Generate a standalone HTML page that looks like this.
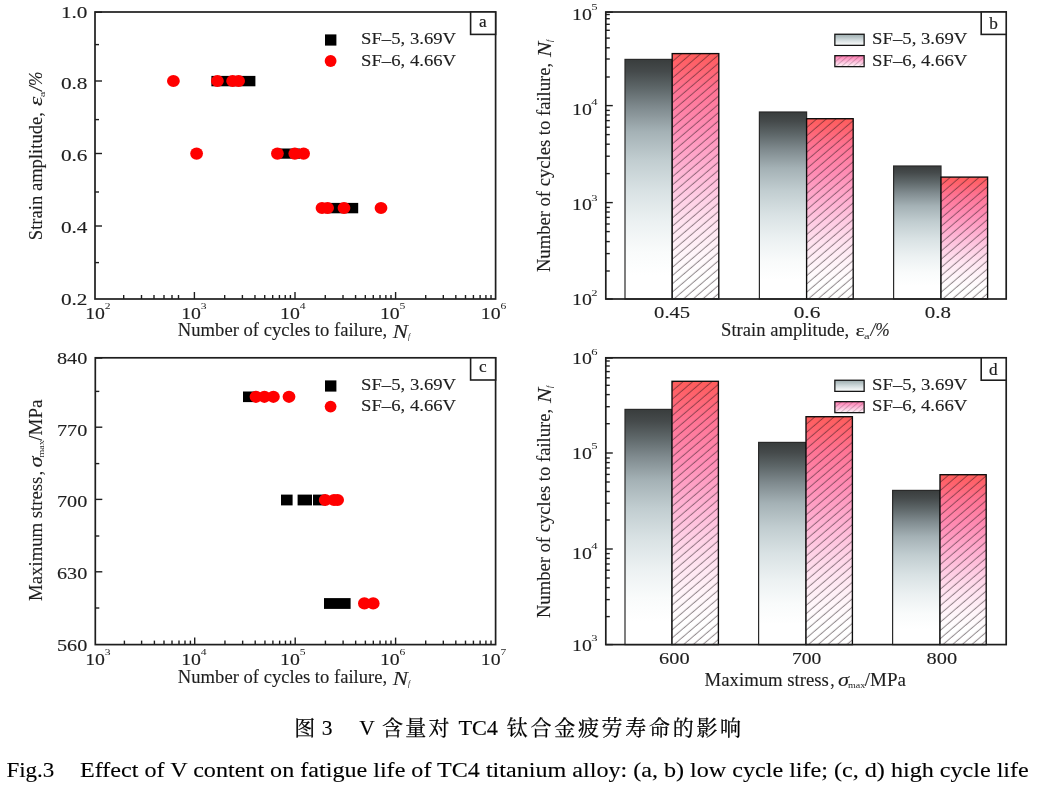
<!DOCTYPE html>
<html lang="zh"><head><meta charset="utf-8"><title>Fig.3</title>
<style>html,body{margin:0;padding:0;background:#fff}svg{display:block}text{font-family:'Liberation Serif','Noto Serif CJK SC',serif;}</style></head><body>
<svg width="1040" height="791" viewBox="0 0 1040 791">
<defs>
<linearGradient id="gGrey" x1="0" y1="0" x2="0" y2="1"><stop offset="0" stop-color="#393d3d"/><stop offset="0.05" stop-color="#454a4b"/><stop offset="0.12" stop-color="#5e6769"/><stop offset="0.20" stop-color="#7f8a8e"/><stop offset="0.30" stop-color="#a4b1b5"/><stop offset="0.42" stop-color="#c1cdd0"/><stop offset="0.55" stop-color="#d9e2e4"/><stop offset="0.68" stop-color="#ecf1f2"/><stop offset="0.80" stop-color="#f9fbfb"/><stop offset="0.90" stop-color="#ffffff"/><stop offset="1" stop-color="#ffffff"/></linearGradient>
<linearGradient id="gRed" x1="0" y1="0" x2="0" y2="1"><stop offset="0" stop-color="#ff5c5a"/><stop offset="0.06" stop-color="#ff6470"/><stop offset="0.15" stop-color="#ff7494"/><stop offset="0.30" stop-color="#ff8cb4"/><stop offset="0.45" stop-color="#ffaed0"/><stop offset="0.58" stop-color="#ffcde4"/><stop offset="0.70" stop-color="#ffe5f1"/><stop offset="0.82" stop-color="#fff6fa"/><stop offset="0.92" stop-color="#ffffff"/><stop offset="1" stop-color="#ffffff"/></linearGradient>
<linearGradient id="gLegG" x1="0" y1="0" x2="0" y2="1"><stop offset="0" stop-color="#9babad"/><stop offset="0.5" stop-color="#d0dadc"/><stop offset="1" stop-color="#ffffff"/></linearGradient>
<linearGradient id="gLegR" x1="0" y1="0" x2="0" y2="1"><stop offset="0" stop-color="#ff78ae"/><stop offset="0.5" stop-color="#ffb8d8"/><stop offset="1" stop-color="#fffafc"/></linearGradient>
<pattern id="hatch" patternUnits="userSpaceOnUse" width="20" height="6.25" patternTransform="rotate(-40.6)"><line x1="0" y1="3" x2="20" y2="3" stroke="#22141a" stroke-opacity="0.85" stroke-width="0.62"/></pattern>
<pattern id="hatchL" patternUnits="userSpaceOnUse" width="20" height="3.8" patternTransform="rotate(-40.6)"><line x1="0" y1="1.5" x2="20" y2="1.5" stroke="#402030" stroke-opacity="0.5" stroke-width="0.5"/></pattern>
</defs>
<rect width="1040" height="791" fill="#fff"/>
<rect x="211.40" y="75.90" width="44.00" height="10.40" fill="#000"/>
<ellipse cx="173.40" cy="81.00" rx="6.40" ry="6.10" fill="#ff0000"/>
<ellipse cx="217.40" cy="81.00" rx="6.40" ry="6.10" fill="#ff0000"/>
<ellipse cx="232.60" cy="81.00" rx="6.40" ry="6.10" fill="#ff0000"/>
<ellipse cx="238.60" cy="81.00" rx="6.40" ry="6.10" fill="#ff0000"/>
<rect x="279.00" y="148.50" width="21.00" height="10.20" fill="#000"/>
<ellipse cx="196.60" cy="153.60" rx="6.40" ry="6.10" fill="#ff0000"/>
<ellipse cx="277.40" cy="153.60" rx="6.40" ry="6.10" fill="#ff0000"/>
<ellipse cx="294.80" cy="153.60" rx="6.40" ry="6.10" fill="#ff0000"/>
<ellipse cx="303.60" cy="153.60" rx="6.40" ry="6.10" fill="#ff0000"/>
<rect x="325.00" y="202.90" width="33.20" height="10.40" fill="#000"/>
<ellipse cx="322.00" cy="208.00" rx="6.40" ry="6.10" fill="#ff0000"/>
<ellipse cx="327.60" cy="208.00" rx="6.40" ry="6.10" fill="#ff0000"/>
<ellipse cx="344.00" cy="208.00" rx="6.40" ry="6.10" fill="#ff0000"/>
<ellipse cx="381.00" cy="208.00" rx="6.40" ry="6.10" fill="#ff0000"/>
<rect x="95.00" y="12.00" width="400.60" height="287.00" fill="none" stroke="#1e1e1e" stroke-width="1.7"/>
<line x1="95.00" y1="12.20" x2="102.00" y2="12.20" stroke="#1e1e1e" stroke-width="1.4"/>
<text x="60.90" y="18.20" font-size="16.4" fill="#1e1e1e" textLength="26.60" lengthAdjust="spacingAndGlyphs" stroke="#1e1e1e" stroke-width="0.12">1.0</text>
<line x1="95.00" y1="81.00" x2="102.00" y2="81.00" stroke="#1e1e1e" stroke-width="1.4"/>
<text x="60.90" y="89.40" font-size="16.4" fill="#1e1e1e" textLength="26.60" lengthAdjust="spacingAndGlyphs" stroke="#1e1e1e" stroke-width="0.12">0.8</text>
<line x1="95.00" y1="153.50" x2="102.00" y2="153.50" stroke="#1e1e1e" stroke-width="1.4"/>
<text x="60.90" y="161.00" font-size="16.4" fill="#1e1e1e" textLength="26.60" lengthAdjust="spacingAndGlyphs" stroke="#1e1e1e" stroke-width="0.12">0.6</text>
<line x1="95.00" y1="226.00" x2="102.00" y2="226.00" stroke="#1e1e1e" stroke-width="1.4"/>
<text x="60.90" y="233.30" font-size="16.4" fill="#1e1e1e" textLength="26.60" lengthAdjust="spacingAndGlyphs" stroke="#1e1e1e" stroke-width="0.12">0.4</text>
<text x="60.90" y="305.10" font-size="16.4" fill="#1e1e1e" textLength="26.60" lengthAdjust="spacingAndGlyphs" stroke="#1e1e1e" stroke-width="0.12">0.2</text>
<line x1="95.00" y1="44.60" x2="99.00" y2="44.60" stroke="#1e1e1e" stroke-width="1.4"/>
<line x1="95.00" y1="119.60" x2="99.00" y2="119.60" stroke="#1e1e1e" stroke-width="1.4"/>
<line x1="95.00" y1="192.00" x2="99.00" y2="192.00" stroke="#1e1e1e" stroke-width="1.4"/>
<line x1="95.00" y1="262.60" x2="99.00" y2="262.60" stroke="#1e1e1e" stroke-width="1.4"/>
<line x1="123.70" y1="299.00" x2="123.70" y2="295.00" stroke="#1e1e1e" stroke-width="1.4"/>
<line x1="141.50" y1="299.00" x2="141.50" y2="295.00" stroke="#1e1e1e" stroke-width="1.4"/>
<line x1="154.00" y1="299.00" x2="154.00" y2="295.00" stroke="#1e1e1e" stroke-width="1.4"/>
<line x1="164.00" y1="299.00" x2="164.00" y2="295.00" stroke="#1e1e1e" stroke-width="1.4"/>
<line x1="172.00" y1="299.00" x2="172.00" y2="295.00" stroke="#1e1e1e" stroke-width="1.4"/>
<line x1="178.50" y1="299.00" x2="178.50" y2="295.00" stroke="#1e1e1e" stroke-width="1.4"/>
<line x1="194.40" y1="299.00" x2="194.40" y2="292.00" stroke="#1e1e1e" stroke-width="1.4"/>
<line x1="224.68" y1="299.00" x2="224.68" y2="295.00" stroke="#1e1e1e" stroke-width="1.4"/>
<line x1="242.40" y1="299.00" x2="242.40" y2="295.00" stroke="#1e1e1e" stroke-width="1.4"/>
<line x1="254.97" y1="299.00" x2="254.97" y2="295.00" stroke="#1e1e1e" stroke-width="1.4"/>
<line x1="264.72" y1="299.00" x2="264.72" y2="295.00" stroke="#1e1e1e" stroke-width="1.4"/>
<line x1="272.68" y1="299.00" x2="272.68" y2="295.00" stroke="#1e1e1e" stroke-width="1.4"/>
<line x1="279.42" y1="299.00" x2="279.42" y2="295.00" stroke="#1e1e1e" stroke-width="1.4"/>
<line x1="285.25" y1="299.00" x2="285.25" y2="295.00" stroke="#1e1e1e" stroke-width="1.4"/>
<line x1="290.40" y1="299.00" x2="290.40" y2="295.00" stroke="#1e1e1e" stroke-width="1.4"/>
<line x1="295.00" y1="299.00" x2="295.00" y2="292.00" stroke="#1e1e1e" stroke-width="1.4"/>
<line x1="325.28" y1="299.00" x2="325.28" y2="295.00" stroke="#1e1e1e" stroke-width="1.4"/>
<line x1="343.00" y1="299.00" x2="343.00" y2="295.00" stroke="#1e1e1e" stroke-width="1.4"/>
<line x1="355.57" y1="299.00" x2="355.57" y2="295.00" stroke="#1e1e1e" stroke-width="1.4"/>
<line x1="365.32" y1="299.00" x2="365.32" y2="295.00" stroke="#1e1e1e" stroke-width="1.4"/>
<line x1="373.28" y1="299.00" x2="373.28" y2="295.00" stroke="#1e1e1e" stroke-width="1.4"/>
<line x1="380.02" y1="299.00" x2="380.02" y2="295.00" stroke="#1e1e1e" stroke-width="1.4"/>
<line x1="385.85" y1="299.00" x2="385.85" y2="295.00" stroke="#1e1e1e" stroke-width="1.4"/>
<line x1="391.00" y1="299.00" x2="391.00" y2="295.00" stroke="#1e1e1e" stroke-width="1.4"/>
<line x1="395.60" y1="299.00" x2="395.60" y2="292.00" stroke="#1e1e1e" stroke-width="1.4"/>
<line x1="425.70" y1="299.00" x2="425.70" y2="295.00" stroke="#1e1e1e" stroke-width="1.4"/>
<line x1="443.31" y1="299.00" x2="443.31" y2="295.00" stroke="#1e1e1e" stroke-width="1.4"/>
<line x1="455.81" y1="299.00" x2="455.81" y2="295.00" stroke="#1e1e1e" stroke-width="1.4"/>
<line x1="465.50" y1="299.00" x2="465.50" y2="295.00" stroke="#1e1e1e" stroke-width="1.4"/>
<line x1="473.42" y1="299.00" x2="473.42" y2="295.00" stroke="#1e1e1e" stroke-width="1.4"/>
<line x1="480.11" y1="299.00" x2="480.11" y2="295.00" stroke="#1e1e1e" stroke-width="1.4"/>
<line x1="485.91" y1="299.00" x2="485.91" y2="295.00" stroke="#1e1e1e" stroke-width="1.4"/>
<line x1="491.02" y1="299.00" x2="491.02" y2="295.00" stroke="#1e1e1e" stroke-width="1.4"/>
<text x="85.20" y="318.50" font-size="16.4" fill="#1e1e1e" textLength="19.80" lengthAdjust="spacingAndGlyphs" stroke="#1e1e1e" stroke-width="0.12">10</text>
<text x="104.80" y="309.30" font-size="8.8" fill="#1e1e1e" textLength="5.80" lengthAdjust="spacingAndGlyphs">2</text>
<text x="181.20" y="318.50" font-size="16.4" fill="#1e1e1e" textLength="19.80" lengthAdjust="spacingAndGlyphs" stroke="#1e1e1e" stroke-width="0.12">10</text>
<text x="200.80" y="309.30" font-size="8.8" fill="#1e1e1e" textLength="5.80" lengthAdjust="spacingAndGlyphs">3</text>
<text x="280.10" y="318.50" font-size="16.4" fill="#1e1e1e" textLength="19.80" lengthAdjust="spacingAndGlyphs" stroke="#1e1e1e" stroke-width="0.12">10</text>
<text x="299.70" y="309.30" font-size="8.8" fill="#1e1e1e" textLength="5.80" lengthAdjust="spacingAndGlyphs">4</text>
<text x="379.90" y="318.50" font-size="16.4" fill="#1e1e1e" textLength="19.80" lengthAdjust="spacingAndGlyphs" stroke="#1e1e1e" stroke-width="0.12">10</text>
<text x="399.50" y="309.30" font-size="8.8" fill="#1e1e1e" textLength="5.80" lengthAdjust="spacingAndGlyphs">5</text>
<text x="480.80" y="318.50" font-size="16.4" fill="#1e1e1e" textLength="19.80" lengthAdjust="spacingAndGlyphs" stroke="#1e1e1e" stroke-width="0.12">10</text>
<text x="500.40" y="309.30" font-size="8.8" fill="#1e1e1e" textLength="5.80" lengthAdjust="spacingAndGlyphs">6</text>
<g transform="translate(178.75 335.70)">
<text x="-0.90" y="0.00" font-size="17.9" fill="#1e1e1e" textLength="209.30" lengthAdjust="spacingAndGlyphs" stroke="#1e1e1e" stroke-width="0.12">Number of cycles to failure,</text>
<text x="214.10" y="1.90" font-size="18.099999999999998" fill="#1e1e1e" textLength="15.20" lengthAdjust="spacingAndGlyphs" font-style="italic" stroke="#1e1e1e" stroke-width="0.12">N</text>
<text x="229.30" y="2.80" font-size="7.7" fill="#1e1e1e" font-style="italic">f</text>
</g>
<g transform="translate(41.90 239.30) rotate(-90)">
<text x="-0.90" y="0.00" font-size="18.5" fill="#1e1e1e" textLength="128.10" lengthAdjust="spacingAndGlyphs" stroke="#1e1e1e" stroke-width="0.12">Strain amplitude,</text>
<text x="133.40" y="0.00" font-size="18.0" fill="#1e1e1e" textLength="9.30" lengthAdjust="spacingAndGlyphs" font-style="italic" stroke="#1e1e1e" stroke-width="0.12">ε</text>
<text x="142.10" y="2.60" font-size="9.25" fill="#1e1e1e" textLength="5.60" lengthAdjust="spacingAndGlyphs">a</text>
<text x="148.40" y="0.00" font-size="18.5" fill="#1e1e1e" textLength="19.30" lengthAdjust="spacingAndGlyphs" font-style="italic" stroke="#1e1e1e" stroke-width="0.12">/%</text>
</g>
<rect x="325.0" y="34.40" width="11.4" height="11.2" fill="#000"/>
<circle cx="330.6" cy="61.00" r="5.9" fill="#ff0000"/>
<text x="361.10" y="44.40" font-size="17.5" fill="#1e1e1e" textLength="95.00" lengthAdjust="spacingAndGlyphs" stroke="#1e1e1e" stroke-width="0.12">SF–5, 3.69V</text>
<text x="361.10" y="65.60" font-size="17.5" fill="#1e1e1e" textLength="95.00" lengthAdjust="spacingAndGlyphs" stroke="#1e1e1e" stroke-width="0.12">SF–6, 4.66V</text>
<rect x="470.60" y="12.00" width="25.00" height="22.40" fill="#fff" stroke="#1e1e1e" stroke-width="1.6"/>
<text x="482.80" y="26.80" font-size="17.2" fill="#1e1e1e" text-anchor="middle" stroke="#1e1e1e" stroke-width="0.2">a</text>
<rect x="625.00" y="59.40" width="47.20" height="239.60" fill="url(#gGrey)" stroke="#2a2a2a" stroke-width="1.2"/>
<rect x="759.40" y="112.00" width="47.20" height="187.00" fill="url(#gGrey)" stroke="#2a2a2a" stroke-width="1.2"/>
<rect x="893.60" y="166.00" width="47.40" height="133.00" fill="url(#gGrey)" stroke="#2a2a2a" stroke-width="1.2"/>
<rect x="672.20" y="53.60" width="46.60" height="245.40" fill="url(#gRed)"/>
<rect x="672.20" y="53.60" width="46.60" height="245.40" fill="url(#hatch)" stroke="#0c0c0c" stroke-width="1.35"/>
<rect x="806.60" y="118.70" width="46.60" height="180.30" fill="url(#gRed)"/>
<rect x="806.60" y="118.70" width="46.60" height="180.30" fill="url(#hatch)" stroke="#0c0c0c" stroke-width="1.35"/>
<rect x="941.00" y="177.10" width="46.60" height="121.90" fill="url(#gRed)"/>
<rect x="941.00" y="177.10" width="46.60" height="121.90" fill="url(#hatch)" stroke="#0c0c0c" stroke-width="1.35"/>
<rect x="605.80" y="12.00" width="400.40" height="287.00" fill="none" stroke="#1e1e1e" stroke-width="1.7"/>
<line x1="605.80" y1="12.20" x2="612.80" y2="12.20" stroke="#1e1e1e" stroke-width="1.4"/>
<text x="572.10" y="19.50" font-size="16.4" fill="#1e1e1e" textLength="19.80" lengthAdjust="spacingAndGlyphs" stroke="#1e1e1e" stroke-width="0.12">10</text>
<text x="591.30" y="9.90" font-size="8.8" fill="#1e1e1e" textLength="6.30" lengthAdjust="spacingAndGlyphs">5</text>
<line x1="605.80" y1="105.60" x2="612.80" y2="105.60" stroke="#1e1e1e" stroke-width="1.4"/>
<text x="572.10" y="115.00" font-size="16.4" fill="#1e1e1e" textLength="19.80" lengthAdjust="spacingAndGlyphs" stroke="#1e1e1e" stroke-width="0.12">10</text>
<text x="591.30" y="105.40" font-size="8.8" fill="#1e1e1e" textLength="6.30" lengthAdjust="spacingAndGlyphs">4</text>
<line x1="605.80" y1="202.60" x2="612.80" y2="202.60" stroke="#1e1e1e" stroke-width="1.4"/>
<text x="572.10" y="210.10" font-size="16.4" fill="#1e1e1e" textLength="19.80" lengthAdjust="spacingAndGlyphs" stroke="#1e1e1e" stroke-width="0.12">10</text>
<text x="591.30" y="200.50" font-size="8.8" fill="#1e1e1e" textLength="6.30" lengthAdjust="spacingAndGlyphs">3</text>
<line x1="605.80" y1="299.00" x2="612.80" y2="299.00" stroke="#1e1e1e" stroke-width="1.4"/>
<text x="572.10" y="305.40" font-size="16.4" fill="#1e1e1e" textLength="19.80" lengthAdjust="spacingAndGlyphs" stroke="#1e1e1e" stroke-width="0.12">10</text>
<text x="591.30" y="295.80" font-size="8.8" fill="#1e1e1e" textLength="6.30" lengthAdjust="spacingAndGlyphs">2</text>
<line x1="605.80" y1="14.50" x2="609.80" y2="14.50" stroke="#1e1e1e" stroke-width="1.4"/>
<line x1="605.80" y1="18.70" x2="609.80" y2="18.70" stroke="#1e1e1e" stroke-width="1.4"/>
<line x1="605.80" y1="24.30" x2="609.80" y2="24.30" stroke="#1e1e1e" stroke-width="1.4"/>
<line x1="605.80" y1="30.30" x2="609.80" y2="30.30" stroke="#1e1e1e" stroke-width="1.4"/>
<line x1="605.80" y1="38.10" x2="609.80" y2="38.10" stroke="#1e1e1e" stroke-width="1.4"/>
<line x1="605.80" y1="47.80" x2="609.80" y2="47.80" stroke="#1e1e1e" stroke-width="1.4"/>
<line x1="605.80" y1="59.00" x2="609.80" y2="59.00" stroke="#1e1e1e" stroke-width="1.4"/>
<line x1="605.80" y1="77.00" x2="609.80" y2="77.00" stroke="#1e1e1e" stroke-width="1.4"/>
<line x1="605.80" y1="110.40" x2="609.80" y2="110.40" stroke="#1e1e1e" stroke-width="1.4"/>
<line x1="605.80" y1="115.00" x2="609.80" y2="115.00" stroke="#1e1e1e" stroke-width="1.4"/>
<line x1="605.80" y1="120.60" x2="609.80" y2="120.60" stroke="#1e1e1e" stroke-width="1.4"/>
<line x1="605.80" y1="127.20" x2="609.80" y2="127.20" stroke="#1e1e1e" stroke-width="1.4"/>
<line x1="605.80" y1="134.60" x2="609.80" y2="134.60" stroke="#1e1e1e" stroke-width="1.4"/>
<line x1="605.80" y1="144.20" x2="609.80" y2="144.20" stroke="#1e1e1e" stroke-width="1.4"/>
<line x1="605.80" y1="156.20" x2="609.80" y2="156.20" stroke="#1e1e1e" stroke-width="1.4"/>
<line x1="605.80" y1="173.60" x2="609.80" y2="173.60" stroke="#1e1e1e" stroke-width="1.4"/>
<line x1="605.80" y1="207.40" x2="609.80" y2="207.40" stroke="#1e1e1e" stroke-width="1.4"/>
<line x1="605.80" y1="212.00" x2="609.80" y2="212.00" stroke="#1e1e1e" stroke-width="1.4"/>
<line x1="605.80" y1="217.40" x2="609.80" y2="217.40" stroke="#1e1e1e" stroke-width="1.4"/>
<line x1="605.80" y1="224.00" x2="609.80" y2="224.00" stroke="#1e1e1e" stroke-width="1.4"/>
<line x1="605.80" y1="231.60" x2="609.80" y2="231.60" stroke="#1e1e1e" stroke-width="1.4"/>
<line x1="605.80" y1="241.60" x2="609.80" y2="241.60" stroke="#1e1e1e" stroke-width="1.4"/>
<line x1="605.80" y1="253.60" x2="609.80" y2="253.60" stroke="#1e1e1e" stroke-width="1.4"/>
<line x1="605.80" y1="271.00" x2="609.80" y2="271.00" stroke="#1e1e1e" stroke-width="1.4"/>
<text x="654.10" y="318.20" font-size="16.4" fill="#1e1e1e" textLength="36.10" lengthAdjust="spacingAndGlyphs" stroke="#1e1e1e" stroke-width="0.12">0.45</text>
<text x="793.70" y="318.20" font-size="16.4" fill="#1e1e1e" textLength="26.70" lengthAdjust="spacingAndGlyphs" stroke="#1e1e1e" stroke-width="0.12">0.6</text>
<text x="924.70" y="318.20" font-size="16.4" fill="#1e1e1e" textLength="26.20" lengthAdjust="spacingAndGlyphs" stroke="#1e1e1e" stroke-width="0.12">0.8</text>
<g transform="translate(722.00 335.90)">
<text x="-0.90" y="0.00" font-size="17.9" fill="#1e1e1e" textLength="128.10" lengthAdjust="spacingAndGlyphs" stroke="#1e1e1e" stroke-width="0.12">Strain amplitude,</text>
<text x="133.40" y="0.00" font-size="17.4" fill="#1e1e1e" textLength="9.30" lengthAdjust="spacingAndGlyphs" stroke="#1e1e1e" stroke-width="0.12">ε</text>
<text x="142.10" y="2.60" font-size="8.95" fill="#1e1e1e" textLength="5.60" lengthAdjust="spacingAndGlyphs">a</text>
<text x="148.40" y="0.00" font-size="17.9" fill="#1e1e1e" textLength="19.30" lengthAdjust="spacingAndGlyphs" font-style="italic" stroke="#1e1e1e" stroke-width="0.12">/%</text>
</g>
<g transform="translate(550.40 271.20) rotate(-90)">
<text x="-0.90" y="0.00" font-size="18.5" fill="#1e1e1e" textLength="209.30" lengthAdjust="spacingAndGlyphs" stroke="#1e1e1e" stroke-width="0.12">Number of cycles to failure,</text>
<text x="214.10" y="1.00" font-size="18.7" fill="#1e1e1e" textLength="15.20" lengthAdjust="spacingAndGlyphs" font-style="italic" stroke="#1e1e1e" stroke-width="0.12">N</text>
<text x="229.30" y="1.90" font-size="7.96" fill="#1e1e1e" font-style="italic">f</text>
</g>
<rect x="834.85" y="34.25" width="29.3" height="11.1" fill="url(#gLegG)" stroke="#161616" stroke-width="1.3"/>
<rect x="834.85" y="55.65" width="29.3" height="11.0" fill="url(#gLegR)"/>
<rect x="834.85" y="55.65" width="29.3" height="11.0" fill="url(#hatchL)" stroke="#161616" stroke-width="1.3"/>
<text x="872.10" y="44.40" font-size="17.5" fill="#1e1e1e" textLength="95.20" lengthAdjust="spacingAndGlyphs" stroke="#1e1e1e" stroke-width="0.12">SF–5, 3.69V</text>
<text x="872.10" y="65.60" font-size="17.5" fill="#1e1e1e" textLength="95.20" lengthAdjust="spacingAndGlyphs" stroke="#1e1e1e" stroke-width="0.12">SF–6, 4.66V</text>
<rect x="981.20" y="12.00" width="25.00" height="22.40" fill="#fff" stroke="#1e1e1e" stroke-width="1.6"/>
<text x="993.60" y="29.00" font-size="17.2" fill="#1e1e1e" text-anchor="middle" stroke="#1e1e1e" stroke-width="0.2">b</text>
<rect x="243.00" y="391.50" width="13.00" height="10.60" fill="#000"/>
<ellipse cx="256.00" cy="396.80" rx="6.40" ry="6.10" fill="#ff0000"/>
<ellipse cx="264.40" cy="396.80" rx="6.40" ry="6.10" fill="#ff0000"/>
<ellipse cx="273.40" cy="396.80" rx="6.40" ry="6.10" fill="#ff0000"/>
<ellipse cx="289.00" cy="396.80" rx="6.40" ry="6.10" fill="#ff0000"/>
<rect x="281.00" y="494.60" width="11.60" height="10.80" fill="#000"/>
<rect x="297.60" y="494.60" width="14.40" height="10.80" fill="#000"/>
<rect x="313.00" y="494.60" width="13.00" height="10.80" fill="#000"/>
<ellipse cx="325.20" cy="500.00" rx="6.40" ry="6.10" fill="#ff0000"/>
<ellipse cx="334.00" cy="500.00" rx="6.40" ry="6.10" fill="#ff0000"/>
<ellipse cx="337.60" cy="500.00" rx="6.40" ry="6.10" fill="#ff0000"/>
<rect x="324.00" y="598.10" width="26.60" height="10.80" fill="#000"/>
<ellipse cx="364.40" cy="603.40" rx="6.40" ry="6.10" fill="#ff0000"/>
<ellipse cx="373.20" cy="603.40" rx="6.40" ry="6.10" fill="#ff0000"/>
<rect x="95.30" y="357.80" width="400.30" height="286.80" fill="none" stroke="#1e1e1e" stroke-width="1.7"/>
<line x1="95.30" y1="358.00" x2="102.30" y2="358.00" stroke="#1e1e1e" stroke-width="1.4"/>
<text x="57.00" y="363.80" font-size="16.4" fill="#1e1e1e" textLength="30.30" lengthAdjust="spacingAndGlyphs" stroke="#1e1e1e" stroke-width="0.12">840</text>
<line x1="95.30" y1="427.20" x2="102.30" y2="427.20" stroke="#1e1e1e" stroke-width="1.4"/>
<text x="57.00" y="436.20" font-size="16.4" fill="#1e1e1e" textLength="30.30" lengthAdjust="spacingAndGlyphs" stroke="#1e1e1e" stroke-width="0.12">770</text>
<line x1="95.30" y1="499.40" x2="102.30" y2="499.40" stroke="#1e1e1e" stroke-width="1.4"/>
<text x="57.00" y="507.00" font-size="16.4" fill="#1e1e1e" textLength="30.30" lengthAdjust="spacingAndGlyphs" stroke="#1e1e1e" stroke-width="0.12">700</text>
<line x1="95.30" y1="571.80" x2="102.30" y2="571.80" stroke="#1e1e1e" stroke-width="1.4"/>
<text x="57.00" y="579.10" font-size="16.4" fill="#1e1e1e" textLength="30.30" lengthAdjust="spacingAndGlyphs" stroke="#1e1e1e" stroke-width="0.12">630</text>
<text x="57.00" y="650.70" font-size="16.4" fill="#1e1e1e" textLength="30.30" lengthAdjust="spacingAndGlyphs" stroke="#1e1e1e" stroke-width="0.12">560</text>
<line x1="95.30" y1="391.40" x2="99.30" y2="391.40" stroke="#1e1e1e" stroke-width="1.4"/>
<line x1="95.30" y1="463.60" x2="99.30" y2="463.60" stroke="#1e1e1e" stroke-width="1.4"/>
<line x1="95.30" y1="536.00" x2="99.30" y2="536.00" stroke="#1e1e1e" stroke-width="1.4"/>
<line x1="95.30" y1="608.00" x2="99.30" y2="608.00" stroke="#1e1e1e" stroke-width="1.4"/>
<line x1="124.40" y1="644.60" x2="124.40" y2="640.60" stroke="#1e1e1e" stroke-width="1.4"/>
<line x1="141.60" y1="644.60" x2="141.60" y2="640.60" stroke="#1e1e1e" stroke-width="1.4"/>
<line x1="154.40" y1="644.60" x2="154.40" y2="640.60" stroke="#1e1e1e" stroke-width="1.4"/>
<line x1="164.00" y1="644.60" x2="164.00" y2="640.60" stroke="#1e1e1e" stroke-width="1.4"/>
<line x1="172.00" y1="644.60" x2="172.00" y2="640.60" stroke="#1e1e1e" stroke-width="1.4"/>
<line x1="179.00" y1="644.60" x2="179.00" y2="640.60" stroke="#1e1e1e" stroke-width="1.4"/>
<line x1="185.00" y1="644.60" x2="185.00" y2="640.60" stroke="#1e1e1e" stroke-width="1.4"/>
<line x1="190.40" y1="644.60" x2="190.40" y2="640.60" stroke="#1e1e1e" stroke-width="1.4"/>
<line x1="194.70" y1="644.60" x2="194.70" y2="637.60" stroke="#1e1e1e" stroke-width="1.4"/>
<line x1="224.95" y1="644.60" x2="224.95" y2="640.60" stroke="#1e1e1e" stroke-width="1.4"/>
<line x1="242.65" y1="644.60" x2="242.65" y2="640.60" stroke="#1e1e1e" stroke-width="1.4"/>
<line x1="255.21" y1="644.60" x2="255.21" y2="640.60" stroke="#1e1e1e" stroke-width="1.4"/>
<line x1="264.95" y1="644.60" x2="264.95" y2="640.60" stroke="#1e1e1e" stroke-width="1.4"/>
<line x1="272.90" y1="644.60" x2="272.90" y2="640.60" stroke="#1e1e1e" stroke-width="1.4"/>
<line x1="279.63" y1="644.60" x2="279.63" y2="640.60" stroke="#1e1e1e" stroke-width="1.4"/>
<line x1="285.46" y1="644.60" x2="285.46" y2="640.60" stroke="#1e1e1e" stroke-width="1.4"/>
<line x1="290.60" y1="644.60" x2="290.60" y2="640.60" stroke="#1e1e1e" stroke-width="1.4"/>
<line x1="295.20" y1="644.60" x2="295.20" y2="637.60" stroke="#1e1e1e" stroke-width="1.4"/>
<line x1="325.42" y1="644.60" x2="325.42" y2="640.60" stroke="#1e1e1e" stroke-width="1.4"/>
<line x1="343.10" y1="644.60" x2="343.10" y2="640.60" stroke="#1e1e1e" stroke-width="1.4"/>
<line x1="355.65" y1="644.60" x2="355.65" y2="640.60" stroke="#1e1e1e" stroke-width="1.4"/>
<line x1="365.38" y1="644.60" x2="365.38" y2="640.60" stroke="#1e1e1e" stroke-width="1.4"/>
<line x1="373.33" y1="644.60" x2="373.33" y2="640.60" stroke="#1e1e1e" stroke-width="1.4"/>
<line x1="380.05" y1="644.60" x2="380.05" y2="640.60" stroke="#1e1e1e" stroke-width="1.4"/>
<line x1="385.87" y1="644.60" x2="385.87" y2="640.60" stroke="#1e1e1e" stroke-width="1.4"/>
<line x1="391.01" y1="644.60" x2="391.01" y2="640.60" stroke="#1e1e1e" stroke-width="1.4"/>
<line x1="395.60" y1="644.60" x2="395.60" y2="637.60" stroke="#1e1e1e" stroke-width="1.4"/>
<line x1="425.70" y1="644.60" x2="425.70" y2="640.60" stroke="#1e1e1e" stroke-width="1.4"/>
<line x1="443.31" y1="644.60" x2="443.31" y2="640.60" stroke="#1e1e1e" stroke-width="1.4"/>
<line x1="455.81" y1="644.60" x2="455.81" y2="640.60" stroke="#1e1e1e" stroke-width="1.4"/>
<line x1="465.50" y1="644.60" x2="465.50" y2="640.60" stroke="#1e1e1e" stroke-width="1.4"/>
<line x1="473.42" y1="644.60" x2="473.42" y2="640.60" stroke="#1e1e1e" stroke-width="1.4"/>
<line x1="480.11" y1="644.60" x2="480.11" y2="640.60" stroke="#1e1e1e" stroke-width="1.4"/>
<line x1="485.91" y1="644.60" x2="485.91" y2="640.60" stroke="#1e1e1e" stroke-width="1.4"/>
<line x1="491.02" y1="644.60" x2="491.02" y2="640.60" stroke="#1e1e1e" stroke-width="1.4"/>
<text x="85.20" y="664.50" font-size="16.4" fill="#1e1e1e" textLength="19.80" lengthAdjust="spacingAndGlyphs" stroke="#1e1e1e" stroke-width="0.12">10</text>
<text x="104.80" y="655.30" font-size="8.8" fill="#1e1e1e" textLength="5.80" lengthAdjust="spacingAndGlyphs">3</text>
<text x="181.20" y="664.50" font-size="16.4" fill="#1e1e1e" textLength="19.80" lengthAdjust="spacingAndGlyphs" stroke="#1e1e1e" stroke-width="0.12">10</text>
<text x="200.80" y="655.30" font-size="8.8" fill="#1e1e1e" textLength="5.80" lengthAdjust="spacingAndGlyphs">4</text>
<text x="280.10" y="664.50" font-size="16.4" fill="#1e1e1e" textLength="19.80" lengthAdjust="spacingAndGlyphs" stroke="#1e1e1e" stroke-width="0.12">10</text>
<text x="299.70" y="655.30" font-size="8.8" fill="#1e1e1e" textLength="5.80" lengthAdjust="spacingAndGlyphs">5</text>
<text x="379.90" y="664.50" font-size="16.4" fill="#1e1e1e" textLength="19.80" lengthAdjust="spacingAndGlyphs" stroke="#1e1e1e" stroke-width="0.12">10</text>
<text x="399.50" y="655.30" font-size="8.8" fill="#1e1e1e" textLength="5.80" lengthAdjust="spacingAndGlyphs">6</text>
<text x="480.80" y="664.50" font-size="16.4" fill="#1e1e1e" textLength="19.80" lengthAdjust="spacingAndGlyphs" stroke="#1e1e1e" stroke-width="0.12">10</text>
<text x="500.40" y="655.30" font-size="8.8" fill="#1e1e1e" textLength="5.80" lengthAdjust="spacingAndGlyphs">7</text>
<g transform="translate(178.75 683.00)">
<text x="-0.90" y="0.00" font-size="17.9" fill="#1e1e1e" textLength="209.30" lengthAdjust="spacingAndGlyphs" stroke="#1e1e1e" stroke-width="0.12">Number of cycles to failure,</text>
<text x="214.10" y="1.90" font-size="18.099999999999998" fill="#1e1e1e" textLength="15.20" lengthAdjust="spacingAndGlyphs" font-style="italic" stroke="#1e1e1e" stroke-width="0.12">N</text>
<text x="229.30" y="2.80" font-size="7.7" fill="#1e1e1e" font-style="italic">f</text>
</g>
<g transform="translate(41.60 600.00) rotate(-90)">
<text x="-0.90" y="0.00" font-size="18.5" fill="#1e1e1e" textLength="124.30" lengthAdjust="spacingAndGlyphs" stroke="#1e1e1e" stroke-width="0.12">Maximum stress</text>
<text x="124.70" y="0.00" font-size="18.5" fill="#1e1e1e" textLength="4.40" lengthAdjust="spacingAndGlyphs" stroke="#1e1e1e" stroke-width="0.12">,</text>
<text x="132.40" y="0.00" font-size="18.5" fill="#1e1e1e" textLength="11.00" lengthAdjust="spacingAndGlyphs" font-style="italic" stroke="#1e1e1e" stroke-width="0.12">σ</text>
<text x="142.40" y="2.60" font-size="9.25" fill="#1e1e1e" textLength="17.30" lengthAdjust="spacingAndGlyphs">max</text>
<text x="159.30" y="0.00" font-size="18.5" fill="#1e1e1e" textLength="41.10" lengthAdjust="spacingAndGlyphs" stroke="#1e1e1e" stroke-width="0.12">/MPa</text>
</g>
<rect x="325.0" y="380.40" width="11.4" height="11.2" fill="#000"/>
<circle cx="330.6" cy="406.60" r="5.9" fill="#ff0000"/>
<text x="361.10" y="390.00" font-size="17.5" fill="#1e1e1e" textLength="95.00" lengthAdjust="spacingAndGlyphs" stroke="#1e1e1e" stroke-width="0.12">SF–5, 3.69V</text>
<text x="361.10" y="411.00" font-size="17.5" fill="#1e1e1e" textLength="95.00" lengthAdjust="spacingAndGlyphs" stroke="#1e1e1e" stroke-width="0.12">SF–6, 4.66V</text>
<rect x="470.60" y="357.80" width="25.00" height="22.20" fill="#fff" stroke="#1e1e1e" stroke-width="1.6"/>
<text x="482.80" y="372.00" font-size="17.2" fill="#1e1e1e" text-anchor="middle" stroke="#1e1e1e" stroke-width="0.2">c</text>
<rect x="625.00" y="409.40" width="47.00" height="235.20" fill="url(#gGrey)" stroke="#2a2a2a" stroke-width="1.2"/>
<rect x="758.60" y="442.40" width="47.40" height="202.20" fill="url(#gGrey)" stroke="#2a2a2a" stroke-width="1.2"/>
<rect x="892.60" y="490.40" width="47.40" height="154.20" fill="url(#gGrey)" stroke="#2a2a2a" stroke-width="1.2"/>
<rect x="672.00" y="381.30" width="46.40" height="263.30" fill="url(#gRed)"/>
<rect x="672.00" y="381.30" width="46.40" height="263.30" fill="url(#hatch)" stroke="#0c0c0c" stroke-width="1.35"/>
<rect x="806.00" y="416.70" width="46.40" height="227.90" fill="url(#gRed)"/>
<rect x="806.00" y="416.70" width="46.40" height="227.90" fill="url(#hatch)" stroke="#0c0c0c" stroke-width="1.35"/>
<rect x="940.00" y="474.70" width="46.20" height="169.90" fill="url(#gRed)"/>
<rect x="940.00" y="474.70" width="46.20" height="169.90" fill="url(#hatch)" stroke="#0c0c0c" stroke-width="1.35"/>
<rect x="605.80" y="357.80" width="400.40" height="286.80" fill="none" stroke="#1e1e1e" stroke-width="1.7"/>
<line x1="605.80" y1="358.00" x2="612.80" y2="358.00" stroke="#1e1e1e" stroke-width="1.4"/>
<text x="572.10" y="364.30" font-size="16.4" fill="#1e1e1e" textLength="19.80" lengthAdjust="spacingAndGlyphs" stroke="#1e1e1e" stroke-width="0.12">10</text>
<text x="591.30" y="354.70" font-size="8.8" fill="#1e1e1e" textLength="6.30" lengthAdjust="spacingAndGlyphs">6</text>
<line x1="605.80" y1="453.00" x2="612.80" y2="453.00" stroke="#1e1e1e" stroke-width="1.4"/>
<text x="572.10" y="459.00" font-size="16.4" fill="#1e1e1e" textLength="19.80" lengthAdjust="spacingAndGlyphs" stroke="#1e1e1e" stroke-width="0.12">10</text>
<text x="591.30" y="449.40" font-size="8.8" fill="#1e1e1e" textLength="6.30" lengthAdjust="spacingAndGlyphs">5</text>
<line x1="605.80" y1="549.00" x2="612.80" y2="549.00" stroke="#1e1e1e" stroke-width="1.4"/>
<text x="572.10" y="558.50" font-size="16.4" fill="#1e1e1e" textLength="19.80" lengthAdjust="spacingAndGlyphs" stroke="#1e1e1e" stroke-width="0.12">10</text>
<text x="591.30" y="548.90" font-size="8.8" fill="#1e1e1e" textLength="6.30" lengthAdjust="spacingAndGlyphs">4</text>
<line x1="605.80" y1="644.60" x2="612.80" y2="644.60" stroke="#1e1e1e" stroke-width="1.4"/>
<text x="572.10" y="650.70" font-size="16.4" fill="#1e1e1e" textLength="19.80" lengthAdjust="spacingAndGlyphs" stroke="#1e1e1e" stroke-width="0.12">10</text>
<text x="591.30" y="641.10" font-size="8.8" fill="#1e1e1e" textLength="6.30" lengthAdjust="spacingAndGlyphs">3</text>
<line x1="605.80" y1="361.00" x2="609.80" y2="361.00" stroke="#1e1e1e" stroke-width="1.4"/>
<line x1="605.80" y1="366.00" x2="609.80" y2="366.00" stroke="#1e1e1e" stroke-width="1.4"/>
<line x1="605.80" y1="371.60" x2="609.80" y2="371.60" stroke="#1e1e1e" stroke-width="1.4"/>
<line x1="605.80" y1="377.80" x2="609.80" y2="377.80" stroke="#1e1e1e" stroke-width="1.4"/>
<line x1="605.80" y1="385.30" x2="609.80" y2="385.30" stroke="#1e1e1e" stroke-width="1.4"/>
<line x1="605.80" y1="394.60" x2="609.80" y2="394.60" stroke="#1e1e1e" stroke-width="1.4"/>
<line x1="605.80" y1="406.70" x2="609.80" y2="406.70" stroke="#1e1e1e" stroke-width="1.4"/>
<line x1="605.80" y1="423.70" x2="609.80" y2="423.70" stroke="#1e1e1e" stroke-width="1.4"/>
<line x1="605.80" y1="458.00" x2="609.80" y2="458.00" stroke="#1e1e1e" stroke-width="1.4"/>
<line x1="605.80" y1="462.60" x2="609.80" y2="462.60" stroke="#1e1e1e" stroke-width="1.4"/>
<line x1="605.80" y1="468.00" x2="609.80" y2="468.00" stroke="#1e1e1e" stroke-width="1.4"/>
<line x1="605.80" y1="474.40" x2="609.80" y2="474.40" stroke="#1e1e1e" stroke-width="1.4"/>
<line x1="605.80" y1="482.00" x2="609.80" y2="482.00" stroke="#1e1e1e" stroke-width="1.4"/>
<line x1="605.80" y1="491.50" x2="609.80" y2="491.50" stroke="#1e1e1e" stroke-width="1.4"/>
<line x1="605.80" y1="503.20" x2="609.80" y2="503.20" stroke="#1e1e1e" stroke-width="1.4"/>
<line x1="605.80" y1="520.00" x2="609.80" y2="520.00" stroke="#1e1e1e" stroke-width="1.4"/>
<line x1="605.80" y1="553.60" x2="609.80" y2="553.60" stroke="#1e1e1e" stroke-width="1.4"/>
<line x1="605.80" y1="558.40" x2="609.80" y2="558.40" stroke="#1e1e1e" stroke-width="1.4"/>
<line x1="605.80" y1="564.00" x2="609.80" y2="564.00" stroke="#1e1e1e" stroke-width="1.4"/>
<line x1="605.80" y1="570.20" x2="609.80" y2="570.20" stroke="#1e1e1e" stroke-width="1.4"/>
<line x1="605.80" y1="578.00" x2="609.80" y2="578.00" stroke="#1e1e1e" stroke-width="1.4"/>
<line x1="605.80" y1="587.60" x2="609.80" y2="587.60" stroke="#1e1e1e" stroke-width="1.4"/>
<line x1="605.80" y1="599.60" x2="609.80" y2="599.60" stroke="#1e1e1e" stroke-width="1.4"/>
<line x1="605.80" y1="616.60" x2="609.80" y2="616.60" stroke="#1e1e1e" stroke-width="1.4"/>
<text x="659.10" y="664.25" font-size="16.4" fill="#1e1e1e" textLength="30.55" lengthAdjust="spacingAndGlyphs" stroke="#1e1e1e" stroke-width="0.12">600</text>
<text x="792.10" y="664.25" font-size="16.4" fill="#1e1e1e" textLength="29.30" lengthAdjust="spacingAndGlyphs" stroke="#1e1e1e" stroke-width="0.12">700</text>
<text x="926.60" y="664.25" font-size="16.4" fill="#1e1e1e" textLength="30.55" lengthAdjust="spacingAndGlyphs" stroke="#1e1e1e" stroke-width="0.12">800</text>
<g transform="translate(705.50 685.75)">
<text x="-0.90" y="0.00" font-size="17.9" fill="#1e1e1e" textLength="124.30" lengthAdjust="spacingAndGlyphs" stroke="#1e1e1e" stroke-width="0.12">Maximum stress</text>
<text x="124.70" y="0.00" font-size="17.9" fill="#1e1e1e" textLength="4.40" lengthAdjust="spacingAndGlyphs" stroke="#1e1e1e" stroke-width="0.12">,</text>
<text x="132.40" y="0.00" font-size="17.9" fill="#1e1e1e" textLength="11.00" lengthAdjust="spacingAndGlyphs" font-style="italic" stroke="#1e1e1e" stroke-width="0.12">σ</text>
<text x="142.40" y="2.60" font-size="8.95" fill="#1e1e1e" textLength="17.30" lengthAdjust="spacingAndGlyphs">max</text>
<text x="159.30" y="0.00" font-size="17.9" fill="#1e1e1e" textLength="41.10" lengthAdjust="spacingAndGlyphs" stroke="#1e1e1e" stroke-width="0.12">/MPa</text>
</g>
<g transform="translate(550.40 617.20) rotate(-90)">
<text x="-0.90" y="0.00" font-size="18.5" fill="#1e1e1e" textLength="209.30" lengthAdjust="spacingAndGlyphs" stroke="#1e1e1e" stroke-width="0.12">Number of cycles to failure,</text>
<text x="214.10" y="1.00" font-size="18.7" fill="#1e1e1e" textLength="15.20" lengthAdjust="spacingAndGlyphs" font-style="italic" stroke="#1e1e1e" stroke-width="0.12">N</text>
<text x="229.30" y="1.90" font-size="7.96" fill="#1e1e1e" font-style="italic">f</text>
</g>
<rect x="834.85" y="380.25" width="29.3" height="11.1" fill="url(#gLegG)" stroke="#161616" stroke-width="1.3"/>
<rect x="834.85" y="401.65" width="29.3" height="11.0" fill="url(#gLegR)"/>
<rect x="834.85" y="401.65" width="29.3" height="11.0" fill="url(#hatchL)" stroke="#161616" stroke-width="1.3"/>
<text x="872.10" y="390.00" font-size="17.5" fill="#1e1e1e" textLength="95.20" lengthAdjust="spacingAndGlyphs" stroke="#1e1e1e" stroke-width="0.12">SF–5, 3.69V</text>
<text x="872.10" y="411.40" font-size="17.5" fill="#1e1e1e" textLength="95.20" lengthAdjust="spacingAndGlyphs" stroke="#1e1e1e" stroke-width="0.12">SF–6, 4.66V</text>
<rect x="981.20" y="357.80" width="25.00" height="22.40" fill="#fff" stroke="#1e1e1e" stroke-width="1.6"/>
<text x="993.40" y="374.60" font-size="17.2" fill="#1e1e1e" text-anchor="middle" stroke="#1e1e1e" stroke-width="0.2">d</text>
<text x="294.20" y="735.00" font-size="21" fill="#000" stroke="#000" stroke-width="0.25">图</text>
<text x="321.80" y="735.00" font-size="21.5" fill="#000" stroke="#000" stroke-width="0.12">3</text>
<text x="359.20" y="735.00" font-size="21.5" fill="#000" stroke="#000" stroke-width="0.12">V</text>
<text x="382.00" y="735.00" font-size="21" fill="#000" stroke="#000" stroke-width="0.25" letter-spacing="2.2">含量对</text>
<text x="458.40" y="735.00" font-size="21.5" fill="#000" textLength="39.60" lengthAdjust="spacingAndGlyphs" stroke="#000" stroke-width="0.12">TC4</text>
<text x="506.80" y="735.00" font-size="21" fill="#000" stroke="#000" stroke-width="0.25" letter-spacing="2.7">钛合金疲劳寿命的影响</text>
<text x="6.40" y="777.00" font-size="22" fill="#000" textLength="48.00" lengthAdjust="spacingAndGlyphs" stroke="#000" stroke-width="0.12">Fig.3</text>
<text x="80.00" y="777.00" font-size="22" fill="#000" textLength="948.80" lengthAdjust="spacingAndGlyphs" stroke="#000" stroke-width="0.12">Effect of V content on fatigue life of TC4 titanium alloy: (a, b) low cycle life; (c, d) high cycle life</text>
</svg></body></html>
